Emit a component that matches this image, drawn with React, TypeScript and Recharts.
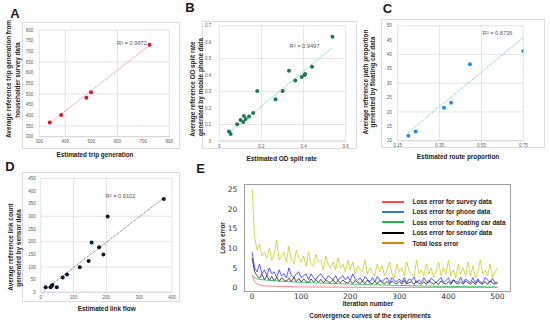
import React from 'react';
import {
  ScatterChart,
  Scatter,
  LineChart,
  Line,
  XAxis,
  YAxis,
  CartesianGrid,
  ReferenceLine,
} from 'recharts';

const FONT = '"Liberation Sans", Arial, sans-serif';

// A - trip generation
const tripEstimated = [340, 384, 481, 499, 724];
const tripReference = [366, 402, 483, 508, 731];
const tripTrend = [{ x: 340, y: 364 }, { x: 724, y: 729 }];
const tripXTicks = [300, 400, 500, 600, 700, 800];
const tripYTicks = [300, 350, 400, 450, 500, 550, 600, 650, 700, 750, 800];

// B - OD split rate
const odEstimated = [0.046, 0.054, 0.085, 0.101, 0.114, 0.117, 0.125, 0.141, 0.161, 0.18, 0.267, 0.301, 0.331, 0.361, 0.391, 0.404, 0.408, 0.44, 0.537];
const odReference = [0.057, 0.042, 0.101, 0.127, 0.115, 0.152, 0.134, 0.148, 0.17, 0.303, 0.253, 0.303, 0.427, 0.368, 0.388, 0.401, 0.407, 0.451, 0.633];
const odTrend = [{ x: 0.045, y: 0.047 }, { x: 0.535, y: 0.566 }];
const odXTicks = [0, 0.2, 0.4, 0.6];
const odYTicks = [0, 0.1, 0.2, 0.3, 0.4, 0.5, 0.6, 0.7];

// C - route proportion
const routeEstimated = [0.201, 0.236, 0.371, 0.405, 0.495, 0.75];
const routeReference = [11.7, 13.2, 21.5, 23.2, 36.6, 41.2];
const routeTrend = [{ x: 0.2, y: 12.8 }, { x: 0.75, y: 45.9 }];
const routeXTicks = [0.15, 0.35, 0.55, 0.75];
const routeYTicks = [10, 15, 20, 25, 30, 35, 40, 45, 50];

// D - link flow
const linkEstimated = [15, 30, 34, 36, 49, 67, 80, 119, 146, 155, 178, 191, 204, 375];
const linkReference = [20, 20, 26, 29, 20, 58, 70, 99, 124, 197, 178, 149, 299, 368];
const linkTrend = [{ x: 11, y: 8 }, { x: 376, y: 374 }];
const linkXTicks = [0, 100, 200, 300, 400];
const linkYTicks = [0, 50, 100, 150, 200, 250, 300, 350, 400, 450];

// E - convergence curves (every 5th iteration)
const totalLoss = [
  25, 13, 9.5, 11, 8, 9, 7.5, 10, 7, 8.5,
  12, 7, 8, 9, 6.5, 10.5, 7, 6, 9.5, 7.5,
  6.5, 8, 5.5, 9, 6, 5.5, 8.5, 6.5, 7, 4.5,
  8, 6, 5, 6.5, 4.5, 7.5, 5, 6, 4, 7,
  4.5, 6.5, 3.5, 5.5, 4.5, 4, 7, 3.5, 5, 4,
  3, 6, 4, 5.5, 3, 4.5, 6.5, 3.5, 2.5, 6,
  4, 5, 3, 6.5, 4, 3.5, 2.5, 7, 3.5, 4.5,
  3, 6, 3.5, 5, 2.5, 4, 6.5, 3, 5, 3.5,
  7, 3, 4.5, 2.5, 6, 3.5, 5, 3, 6.5, 3,
  5.5, 2.5, 4, 7, 3.5, 4.5, 3, 6, 2.5, 4,
  5,
];
const phoneLoss = [
  9, 5, 4, 6, 3.5, 4.5, 3, 5, 3.5, 4,
  2.5, 4.5, 3, 3.5, 2.5, 5, 3, 2.5, 3.5, 4,
  2.5, 3, 3.5, 2, 3.5, 2.5, 2, 3, 3.5, 2.5,
  2, 3, 2.5, 2, 3, 1.8, 2.5, 3, 2, 2.8,
  1.8, 3.5, 2.2, 1.8, 2.5, 1.5, 2.8, 2, 1.5, 2.5,
  1.5, 2.8, 2, 1.5, 2.2, 2.5, 1.3, 2.5, 1.8, 1.5,
  2.2, 1.3, 2.5, 1.2, 2.2, 1.8, 2.6, 1.2, 2, 1.3,
  2.5, 1.5, 1.2, 2.4, 1.8, 1.2, 2, 2.5, 1.3, 1.8,
  2.4, 1.2, 2, 1.6, 1.3, 2.6, 1.2, 2.2, 1.7, 1.3,
  2.5, 1.2, 2.2, 1.5, 1.2, 2.6, 1.9, 1.3, 2.3, 1.2,
  1.5,
];
const sensorLoss = [
  7.5, 4, 3, 2.4, 3.4, 2, 3, 1.8, 2.8, 1.7,
  2.6, 1.6, 2.5, 1.9, 1.6, 2.4, 1.5, 2.6, 1.5, 2.3,
  1.4, 2.2, 1.6, 1.3, 2.2, 1.4, 2, 1.3, 2.1, 1.2,
  1.9, 1.5, 1.3, 2, 1.1, 1.8, 1.2, 1.9, 1.4, 1.1,
  1.7, 1, 1.8, 1.3, 1.1, 1.6, 1, 1.9, 1.2, 1,
  1.6, 0.9, 1.8, 1.3, 1, 1.5, 0.9, 1.7, 1.2, 1,
  1.5, 0.9, 1.8, 0.9, 1.3, 1.5, 0.8, 1.7, 1.1, 0.9,
  1.5, 0.8, 1.8, 1.2, 0.9, 1.4, 0.8, 1.7, 1.1, 0.9,
  1.5, 0.8, 1.9, 1.2, 0.9, 1.4, 0.8, 1.7, 1.2, 0.9,
  1.5, 0.8, 1.8, 1.1, 0.9, 1.5, 0.8, 1.7, 1.2, 0.9,
  1.1,
];
const floatingIter = [0, 5, 10, 20, 30, 50, 75, 100, 150, 200, 250, 300, 350, 400, 450, 500];
const floatingLoss = [3, 2.5, 2.2, 2, 1.9, 1.7, 1.5, 1.35, 1.1, 0.9, 0.7, 0.55, 0.4, 0.3, 0.2, 0.15];
const surveyIter = [0, 3, 6, 10, 15, 20, 30, 40, 60, 80, 100, 150, 200, 300, 400, 500];
const surveyLoss = [3.2, 2, 1.3, 0.9, 0.65, 0.5, 0.4, 0.35, 0.28, 0.22, 0.18, 0.12, 0.08, 0.04, 0.02, 0.01];
const iterXTicks = [0, 100, 200, 300, 400, 500];
const lossYTicks = [0, 5, 10, 15, 20, 25];

const legendItems = [
  { label: 'Loss error for survey data', color: '#ff4a4a' },
  { label: 'Loss error for phone data', color: '#2f7fd0' },
  { label: 'Loss error for floating car data', color: '#22b34a' },
  { label: 'Loss error for sensor data', color: '#000000' },
  { label: 'Total loss error', color: '#d08a10' },
];

type Box = { x: number; y: number; w: number; h: number };
type Pt = { x: number; y: number };

const zip = (xs: number[], ys: number[]): Pt[] => xs.map((x, i) => ({ x, y: ys[i] }));
const every5 = (ys: number[]): Pt[] => ys.map((y, i) => ({ x: i * 5, y }));

const Txt = ({ cx, cy, children, size = 6.4, weight = 'bold', rotate = false, color = '#1a1a1a', family = FONT }: any) => (
  <div
    style={{
      position: 'absolute',
      left: cx,
      top: cy,
      transform: `translate(-50%, -50%)${rotate ? ' rotate(-90deg)' : ''}`,
      fontSize: size,
      fontWeight: weight,
      color,
      fontFamily: family,
      whiteSpace: 'nowrap',
      lineHeight: 1,
    }}
  >
    {children}
  </div>
);

interface PanelProps {
  frame: Box;
  plot: Box;
  xDomain: [number, number];
  yDomain: [number, number];
  xTicks: number[];
  yTicks: number[];
  points: Pt[];
  trend: Pt[];
  dot: string;
  trendStroke: string;
  dash: string;
  yGap: number;
}

const ScatterPanel: React.FC<PanelProps> = ({ frame, plot, xDomain, yDomain, xTicks, yTicks, points, trend, dot, trendStroke, dash, yGap }) => {
  const YW = 12;
  const XH = 7;
  const margin = {
    top: plot.y - frame.y,
    left: plot.x - frame.x - YW,
    right: frame.x + frame.w - plot.x - plot.w,
    bottom: frame.y + frame.h - plot.y - plot.h - XH,
  };
  const tick = { fontSize: 4.5, fill: '#595959', fontFamily: FONT };
  return (
    <>
      <div style={{ position: 'absolute', left: frame.x, top: frame.y, width: frame.w, height: frame.h, border: '1px solid #dcdcdc', boxSizing: 'border-box' }} />
      <div style={{ position: 'absolute', left: frame.x, top: frame.y }}>
        <ScatterChart width={frame.w} height={frame.h} margin={margin}>
          <CartesianGrid stroke="#d9d9d9" strokeWidth={0.7} />
          <XAxis
            type="number"
            dataKey="x"
            domain={xDomain}
            ticks={xTicks}
            allowDataOverflow
            height={XH}
            tick={tick}
            tickLine={false}
            tickSize={2.5}
            tickMargin={1}
            axisLine={{ stroke: '#d0d0d0', strokeWidth: 0.7 }}
          />
          <YAxis
            type="number"
            dataKey="y"
            domain={yDomain}
            ticks={yTicks}
            allowDataOverflow
            width={YW}
            tick={tick}
            tickLine={false}
            tickSize={yGap - 2}
            tickMargin={2}
            axisLine={false}
          />
          <ReferenceLine segment={trend} stroke={trendStroke} strokeWidth={0.8} strokeDasharray={dash} />
          <Scatter
            data={points}
            isAnimationActive={false}
            shape={(p: any) => <circle cx={p.cx} cy={p.cy} r={2} fill={dot} />}
          />
        </ScatterChart>
      </div>
    </>
  );
};

const ConvergencePanel: React.FC = () => {
  const frame = { x: 200, y: 160, w: 350, h: 162 };
  const plot = { x: 244.3, y: 183.7, w: 266.4, h: 108.6 };
  const YW = 20;
  const XH = 12;
  const margin = {
    top: plot.y - frame.y,
    left: plot.x - frame.x - YW,
    right: frame.x + frame.w - plot.x - plot.w,
    bottom: frame.y + frame.h - plot.y - plot.h - XH,
  };
  const tick = { fontSize: 7.5, fill: '#333', fontFamily: '"DejaVu Sans", sans-serif' };
  return (
    <>
      <div style={{ position: 'absolute', left: frame.x, top: frame.y }}>
        <LineChart width={frame.w} height={frame.h} margin={margin}>
          <XAxis
            type="number"
            dataKey="x"
            domain={[-16, 527]}
            ticks={iterXTicks}
            allowDataOverflow
            height={XH}
            tick={tick}
            tickLine={false}
            tickSize={0}
            tickMargin={1}
            axisLine={false}
          />
          <YAxis
            type="number"
            dataKey="y"
            domain={[-1.2, 26.4]}
            ticks={lossYTicks}
            allowDataOverflow
            width={YW}
            tick={tick}
            tickLine={false}
            tickSize={4}
            tickMargin={3}
            axisLine={false}
          />
          <Line data={every5(totalLoss)} dataKey="y" stroke="#c4c400" strokeOpacity={0.85} strokeWidth={0.8} dot={false} isAnimationActive={false} />
          <Line data={every5(phoneLoss)} dataKey="y" stroke="#1616ff" strokeWidth={0.7} dot={false} isAnimationActive={false} />
          <Line data={every5(sensorLoss)} dataKey="y" stroke="#000" strokeWidth={0.7} dot={false} isAnimationActive={false} />
          <Line data={zip(floatingIter, floatingLoss)} dataKey="y" stroke="#22b34a" strokeWidth={0.8} dot={false} isAnimationActive={false} />
          <Line data={zip(surveyIter, surveyLoss)} dataKey="y" stroke="#ff6a6a" strokeWidth={0.8} dot={false} isAnimationActive={false} />
        </LineChart>
      </div>
      <div style={{ position: 'absolute', left: plot.x, top: plot.y, width: plot.w, height: plot.h, border: '1px solid #a0a0a0', boxSizing: 'border-box' }} />
      {legendItems.map((item, i) => (
        <div key={item.label} style={{ position: 'absolute', left: 381.5, top: 197.5 + i * 10.4, height: 8, display: 'flex', alignItems: 'center' }}>
          <div style={{ width: 22, height: 2, background: item.color }} />
          <div style={{ marginLeft: 9, fontSize: 6.4, fontWeight: 'bold', fontFamily: FONT, color: '#1a1a1a', whiteSpace: 'nowrap' }}>{item.label}</div>
        </div>
      ))}
    </>
  );
};

export default function App() {
  return (
    <div style={{ position: 'absolute', left: 0, top: 0, width: 550, height: 322, background: '#fff', overflow: 'hidden', fontFamily: FONT }}>
      <ScatterPanel
        frame={{ x: 22, y: 22, w: 158, h: 127 }}
        plot={{ x: 39.3, y: 30, w: 130, h: 106.7 }}
        xDomain={[300, 800]}
        yDomain={[300, 800]}
        xTicks={tripXTicks}
        yTicks={tripYTicks}
        points={zip(tripEstimated, tripReference)}
        trend={tripTrend}
        dot="#d9162b"
        trendStroke="#f28a8a"
        dash="2 0.6"
        yGap={6}
      />
      <ScatterPanel
        frame={{ x: 202, y: 21, w: 155, h: 128 }}
        plot={{ x: 219.3, y: 25.7, w: 126.4, h: 115.3 }}
        xDomain={[0, 0.6]}
        yDomain={[0, 0.7]}
        xTicks={odXTicks}
        yTicks={odYTicks}
        points={zip(odEstimated, odReference)}
        trend={odTrend}
        dot="#1f7a4d"
        trendStroke="#6fd39a"
        dash="2 0.8"
        yGap={8}
      />
      <ScatterPanel
        frame={{ x: 381, y: 19, w: 164, h: 129 }}
        plot={{ x: 397.7, y: 25.7, w: 125.6, h: 115 }}
        xDomain={[0.15, 0.75]}
        yDomain={[10, 50]}
        xTicks={routeXTicks}
        yTicks={routeYTicks}
        points={zip(routeEstimated, routeReference)}
        trend={routeTrend}
        dot="#1e8fe6"
        trendStroke="#55a8e8"
        dash="1 0.8"
        yGap={6}
      />
      <ScatterPanel
        frame={{ x: 22, y: 172, w: 158, h: 130 }}
        plot={{ x: 40.7, y: 178.3, w: 131.3, h: 114 }}
        xDomain={[0, 400]}
        yDomain={[0, 450]}
        xTicks={linkXTicks}
        yTicks={linkYTicks}
        points={zip(linkEstimated, linkReference)}
        trend={linkTrend}
        dot="#0b1a2c"
        trendStroke="#4a4a4a"
        dash="1 0.8"
        yGap={5}
      />
      <ConvergencePanel />

      <Txt cx={15} cy={12.5} size={13}>A</Txt>
      <Txt cx={190} cy={6.5} size={13}>B</Txt>
      <Txt cx={387.5} cy={7.5} size={13}>C</Txt>
      <Txt cx={10} cy={166} size={13}>D</Txt>
      <Txt cx={200.5} cy={168} size={13}>E</Txt>

      <Txt cx={8.7} cy={79} rotate>Average reference trip generation from</Txt>
      <Txt cx={17.8} cy={80} rotate>householder survey data</Txt>
      <Txt cx={95} cy={154.5}>Estimated trip generation</Txt>
      <Txt cx={132} cy={44} size={5.7} weight="normal" color="#595959">R² = 0.9972</Txt>

      <Txt cx={192.5} cy={89} rotate>Average reference OD split rate</Txt>
      <Txt cx={200.8} cy={87} rotate>generated by mobile phone data</Txt>
      <Txt cx={281.7} cy={158.5}>Estimated OD split rate</Txt>
      <Txt cx={304.5} cy={47} size={5.7} weight="normal" color="#595959">R² = 0.9497</Txt>

      <Txt cx={365.7} cy={81.7} rotate>Average reference path proportion</Txt>
      <Txt cx={373.3} cy={82} rotate>generated by floating car data</Txt>
      <Txt cx={458} cy={157}>Estimated route proportion</Txt>
      <Txt cx={497.5} cy={33.5} size={5.7} weight="normal" color="#595959">R² = 0.8736</Txt>

      <Txt cx={10.8} cy={246.7} rotate>Average reference link count</Txt>
      <Txt cx={19} cy={248.3} rotate>generated by sensor data</Txt>
      <Txt cx={106.7} cy={309}>Estimated link flow</Txt>
      <Txt cx={120.5} cy={197.3} size={5.7} weight="normal" color="#595959">R² = 0.9102</Txt>

      <Txt cx={223} cy={238} rotate>Loss error</Txt>
      <Txt cx={368} cy={303.5}>Iteration number</Txt>
      <Txt cx={370} cy={316}>Convergence curves of the experiments</Txt>
    </div>
  );
}
